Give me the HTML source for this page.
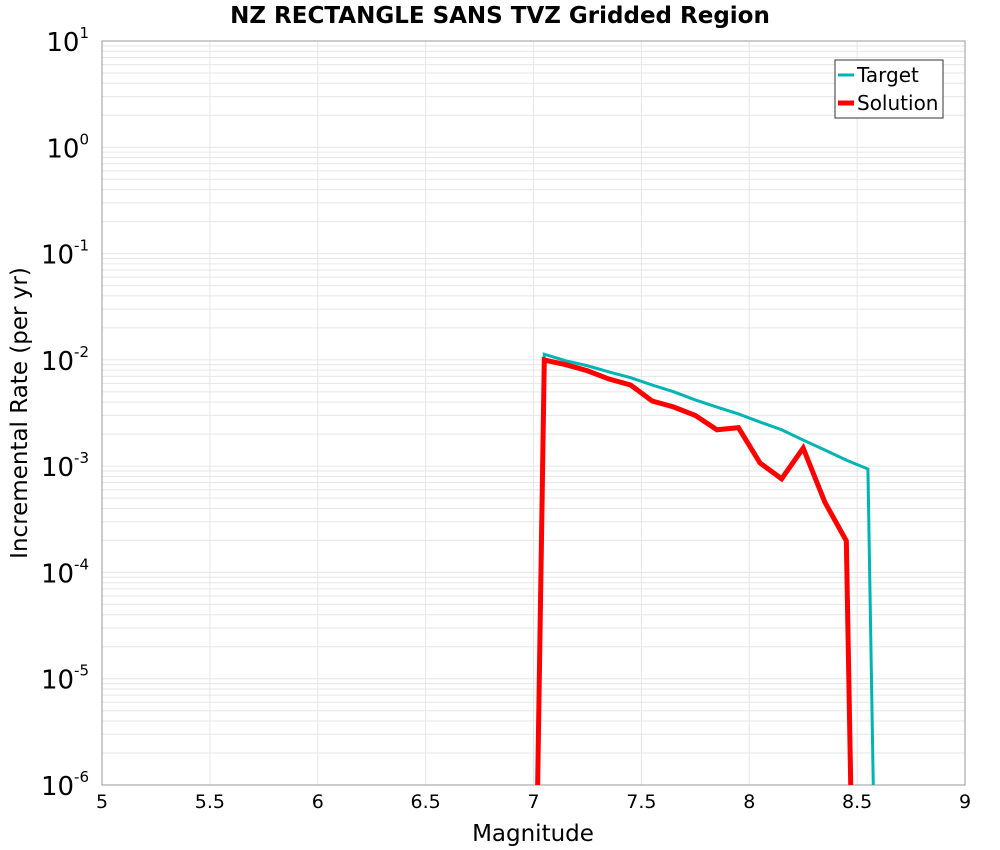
<!DOCTYPE html>
<html><head><meta charset="utf-8"><style>
html,body{margin:0;padding:0;background:#fff;width:1000px;height:850px;overflow:hidden;}
svg{display:block;font-family:"DejaVu Sans","Liberation Sans",sans-serif;}
</style></head><body>
<svg id="chart" width="1000" height="850" xmlns="http://www.w3.org/2000/svg">
<text x="500" y="23" text-anchor="middle" font-size="23" font-weight="bold">NZ RECTANGLE SANS TVZ Gridded Region</text>
<g id="grid"></g>
<g id="axes"></g>
<g id="series"></g>
<text x="533" y="841" text-anchor="middle" font-size="23">Magnitude</text>
<text transform="translate(27,413) rotate(-90)" text-anchor="middle" font-size="23">Incremental Rate (per yr)</text>
<g>
<rect x="835" y="60" width="108" height="58" fill="#fff" stroke="#333" stroke-width="1"/>
<line x1="838" y1="75" x2="854" y2="75" stroke="#00b4b4" stroke-width="3"/>
<text x="857" y="82" font-size="20">Target</text>
<line x1="838" y1="103" x2="854" y2="103" stroke="#ff0000" stroke-width="5"/>
<text x="857" y="110" font-size="20">Solution</text>
</g>
</svg>
<script>
const mags=[6.95,7.05,7.15,7.25,7.35,7.45,7.55,7.65,7.75,7.85,7.95,8.05,8.15,8.25,8.35,8.45,8.55,8.65];
const targetRates=[1e-15,1.13e-2,9.8e-3,8.8e-3,7.7e-3,6.8e-3,5.8e-3,5.0e-3,4.2e-3,3.6e-3,3.1e-3,2.6e-3,2.2e-3,1.76e-3,1.42e-3,1.14e-3,9.4e-4,1e-15];
const solutionRates=[1e-15,9.97e-3,9.0e-3,7.9e-3,6.6e-3,5.8e-3,4.1e-3,3.6e-3,3.0e-3,2.2e-3,2.3e-3,1.07e-3,7.6e-4,1.48e-3,4.6e-4,1.98e-4,1e-15,1e-15];
const xTicks=[5,5.5,6,6.5,7,7.5,8,8.5,9];
const yExps=[1,0,-1,-2,-3,-4,-5,-6];
const L=102,R=965,T=41,B=785;
const xs=m=>L+(m-5)/4*(R-L);
const ys=v=>T+(1-Math.log10(v))/7*(B-T);
const NS="http://www.w3.org/2000/svg";
function mk(tag,parent,attrs){const e=document.createElementNS(NS,tag);for(const k in attrs)e.setAttribute(k,attrs[k]);parent.appendChild(e);return e;}
const grid=document.getElementById('grid'),axes=document.getElementById('axes'),series=document.getElementById('series');
for(let e=-6;e<1;e++){for(let k=1;k<10;k++){const y=ys(k*Math.pow(10,e));
const l=mk('line',grid,{x1:L,x2:R,y1:y,y2:y,stroke:'#e6e6e6','stroke-width':1});

}}
xTicks.forEach(t=>{const x=xs(t);
const l=mk('line',grid,{x1:x,x2:x,y1:T,y2:B,stroke:'#e6e6e6','stroke-width':1});


const tx=mk('text',axes,{x:x,y:808,'text-anchor':'middle','font-size':19});
tx.textContent=t;

});
yExps.forEach(e=>{const y=ys(Math.pow(10,e));
const tx=mk('text',axes,{x:89,y:y+10,'text-anchor':'end','font-size':26});
tx.textContent='10';


const sp=mk('tspan',tx,{dy:-13,'font-size':15});sp.textContent=String(e);});
const fr=mk('rect',axes,{x:L,y:T,width:R-L,height:B-T,fill:'none',stroke:'#999','stroke-width':1});


const cp=mk('clipPath',series,{id:'clip'});mk('rect',cp,{x:L,y:T,width:R-L,height:B-T});
function line(vals,color,w,name){const pts=mags.map((m,i)=>xs(m)+','+ys(vals[i])).join(' ');
const p=mk('polyline',series,{points:pts,fill:'none',stroke:color,'stroke-width':w,'clip-path':'url(#clip)','stroke-linejoin':'miter'});

}
line(targetRates,'#00b4b4',3,'target-line');
line(solutionRates,'#ff0000',5,'solution-line');
</script>
</body></html>
